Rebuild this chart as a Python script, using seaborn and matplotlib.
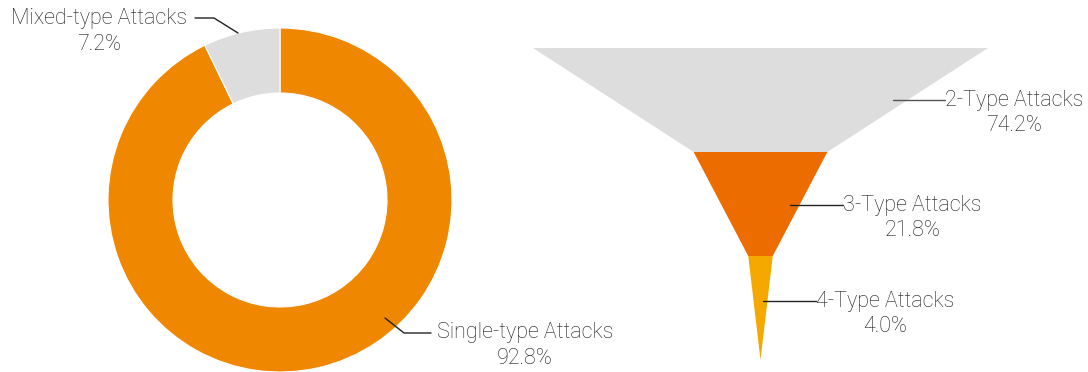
import matplotlib
matplotlib.use("Agg")
import matplotlib.pyplot as plt
import seaborn as sns

# ---- data ----
donut_labels = ["Single-type Attacks", "Mixed-type Attacks"]
donut_values = [92.8, 7.2]
donut_colors = ["#F08700", "#DCDDDC"]

funnel_labels = ["2-Type Attacks", "3-Type Attacks", "4-Type Attacks"]
funnel_values = [74.2, 21.8, 4.0]
funnel_colors = ["#DCDDDC", "#EC6C00", "#F5A800"]

sns.set_theme(style="white")
plt.rcParams['font.family'] = ['Roboto', 'DejaVu Sans']

W, H = 1088, 372
fig = plt.figure(figsize=(W / 100, H / 100), dpi=100)
ax = fig.add_axes([0, 0, 1, 1])

def Y(py):
    return H - py

FS = 15.5
LS = 1.27
TXT = "#1a1a1a"
LINE = "#222222"

# ---- donut ----
cx, cy, R = 280, Y(200), 172
ax.pie(donut_values, colors=donut_colors, startangle=90, counterclock=False,
       center=(cx, cy), radius=R,
       wedgeprops=dict(width=65, edgecolor="white", linewidth=0.8))

ax.plot([195, 214, 238], [Y(18), Y(18), Y(33)], color=LINE, lw=1)
ax.text(99, Y(31.5), f"{donut_labels[1]}\n{donut_values[1]:.1f}%", ha="center", va="center",
        fontsize=FS, color=TXT, fontweight="light", linespacing=LS)
ax.plot([385, 404, 431], [Y(318), Y(333), Y(333)], color=LINE, lw=1)
ax.text(525, Y(345.5), f"{donut_labels[0]}\n{donut_values[0]:.1f}%", ha="center", va="center",
        fontsize=FS, color=TXT, fontweight="light", linespacing=LS)

# ---- funnel ----
fx = 760.5
top = 48
seg_h = 104
scale = 455 / funnel_values[0]
widths = [v * scale for v in funnel_values] + [0]
for i, (lab, v, c) in enumerate(zip(funnel_labels, funnel_values, funnel_colors)):
    y0 = Y(top + i * seg_h)
    y1 = Y(top + (i + 1) * seg_h)
    w0, w1 = widths[i], widths[i + 1]
    ax.fill([fx - w0 / 2, fx + w0 / 2, fx + w1 / 2, fx - w1 / 2],
            [y0, y0, y1, y1], color=c, lw=0)

label_pos = [(893, 945, 100), (790, 843, 205), (763, 816, 301)]
for (x0, x1, py), lab, v in zip(label_pos, funnel_labels, funnel_values):
    col = "#555555" if x0 == 893 else LINE
    ax.plot([x0, x1], [Y(py), Y(py)], color=col, lw=1)
    ax.text(x1, Y(py + 13), f"{lab}\n{v:.1f}%", ha="left", va="center", multialignment="center",
            fontsize=FS, color=TXT, fontweight="light", linespacing=LS)

ax.set_xlim(0, W)
ax.set_ylim(0, H)
ax.set_aspect("auto")
ax.axis("off")
fig.savefig("out.png", dpi=100, facecolor="white")
